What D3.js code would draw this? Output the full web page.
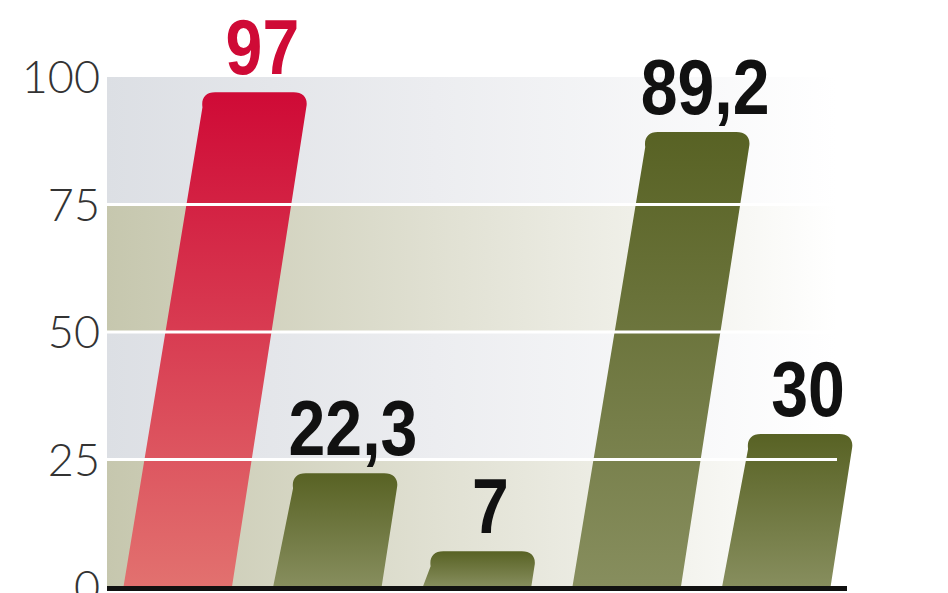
<!DOCTYPE html>
<html lang="pl">
<head>
<meta charset="UTF-8">
<title>Wykres</title>
<script src="https://d3js.org/d3.v7.min.js"></script>
<style>
  html, body { margin: 0; padding: 0; background: #fff; overflow: hidden; }
</style>
</head>
<body>
<script>
// data
var categories = ["a", "b", "c", "d", "e"];
var values = [97, 22.3, 7, 89.2, 30];
var labels = ["97", "22,3", "7", "89,2", "30"];
var highlight = [true, false, false, false, false];
var yTicks = [0, 25, 50, 75, 100];

var width = 948, height = 593;
var plotLeft = 107, plotRight = 847, plotTop = 77, base = 587;
var slant = 0.155;   // horizontal lean of the bars per px of height
var radius = 15;

var svg = d3.select("body").append("svg")
    .attr("width", width)
    .attr("height", height);

var x = d3.scaleBand().domain(categories).range([plotLeft, plotRight])
    .paddingInner(0.275).paddingOuter(0.11);
var y = d3.scaleLinear().domain([0, 100]).range([base, plotTop]);

var defs = svg.append("defs");

// background bands fade out to the right
function bandGrad(id, c) {
    var g = defs.append("linearGradient").attr("id", id)
        .attr("x1", "0%").attr("x2", "100%").attr("y1", "0%").attr("y2", "0%");
    g.append("stop").attr("offset", "0%").attr("stop-color", c);
    g.append("stop").attr("offset", "45%").attr("stop-color", d3.interpolateRgb(c, "#fff")(0.45));
    g.append("stop").attr("offset", "100%").attr("stop-color", "#fff");
}
bandGrad("bandBlue", "#dcdfe4");
bandGrad("bandOlive", "#c6c7ae");

function barGrad(id, c1, c2) {
    var g = defs.append("linearGradient").attr("id", id)
        .attr("x1", "0%").attr("x2", "0%").attr("y1", "0%").attr("y2", "100%");
    g.append("stop").attr("offset", "0%").attr("stop-color", c1);
    g.append("stop").attr("offset", "100%").attr("stop-color", c2);
}
barGrad("barRed", "#cf0a36", "#e2716f");
barGrad("barGreen", "#586224", "#878e5e");

var bands = d3.pairs(yTicks);
svg.append("g").selectAll("rect")
    .data(bands)
    .join("rect")
    .attr("x", plotLeft)
    .attr("width", 730)
    .attr("y", function(d) { return y(d[1]); })
    .attr("height", function(d) { return y(d[0]) - y(d[1]); })
    .attr("fill", function(d, i) { return i % 2 === 0 ? "url(#bandOlive)" : "url(#bandBlue)"; });

// slanted bars with rounded top corners
function barPath(cat, v) {
    var x0 = x(cat), w = x.bandwidth();
    var yt = y(v), h = base - yt;
    var dx = slant * h;
    var r = Math.min(radius, h / 2);
    var tl = x0 + dx, tr = x0 + dx + w;
    var p = d3.path();
    p.moveTo(x0, base);
    p.lineTo(tl + slant * r, yt + r);
    p.bezierCurveTo(tl + slant * r * 0.4, yt + r * 0.4, tl + r * 0.35, yt, tl + r, yt);
    p.lineTo(tr - r, yt);
    p.bezierCurveTo(tr - r * 0.35, yt, tr - slant * r * 0.2, yt + r * 0.4, tr - slant * r, yt + r);
    p.lineTo(x0 + w, base);
    p.closePath();
    return p.toString();
}

var data = categories.map(function(c, i) {
    return { cat: c, value: values[i], label: labels[i], hi: highlight[i] };
});

svg.append("g").selectAll("path")
    .data(data)
    .join("path")
    .attr("d", function(d) { return barPath(d.cat, d.value); })
    .attr("fill", function(d) { return d.hi ? "url(#barRed)" : "url(#barGreen)"; });

// white grid lines run over the bars
svg.append("g").selectAll("line")
    .data(yTicks.filter(function(t) { return t > 0 && t < 100; }))
    .join("line")
    .attr("x1", plotLeft).attr("x2", 837)
    .attr("y1", function(d) { return y(d); })
    .attr("y2", function(d) { return y(d); })
    .attr("stroke", "#fff")
    .attr("stroke-width", 3);

// baseline
svg.append("line")
    .attr("x1", plotLeft).attr("x2", plotRight)
    .attr("y1", base + 1.5).attr("y2", base + 1.5)
    .attr("stroke", "#111").attr("stroke-width", 5);

// tick labels
svg.append("g").selectAll("text")
    .data(yTicks)
    .join("text")
    .attr("x", 100)
    .attr("y", function(d) { return y(d) + 16; })
    .attr("text-anchor", "end")
    .attr("font-family", "Lato, 'Open Sans', sans-serif")
    .attr("font-weight", 300)
    .attr("font-size", 45)
    .attr("fill", "#333")
    .text(function(d) { return d; });

// value labels
svg.append("g").selectAll("text")
    .data(data)
    .join("text")
    .attr("transform", function(d) {
        var h = base - y(d.value);
        var cx = x(d.cat) + slant * h + x.bandwidth() / 2 + 8;
        return "translate(" + cx + "," + (y(d.value) - 18) + ") scale(0.86,1)";
    })
    .attr("text-anchor", "middle")
    .attr("font-family", "'Liberation Sans', Arial, sans-serif")
    .attr("font-weight", "bold")
    .attr("font-size", 77)
    .attr("fill", function(d) { return d.hi ? "#cf0a36" : "#111"; })
    .text(function(d) { return d.label; });
</script>
</body>
</html>
